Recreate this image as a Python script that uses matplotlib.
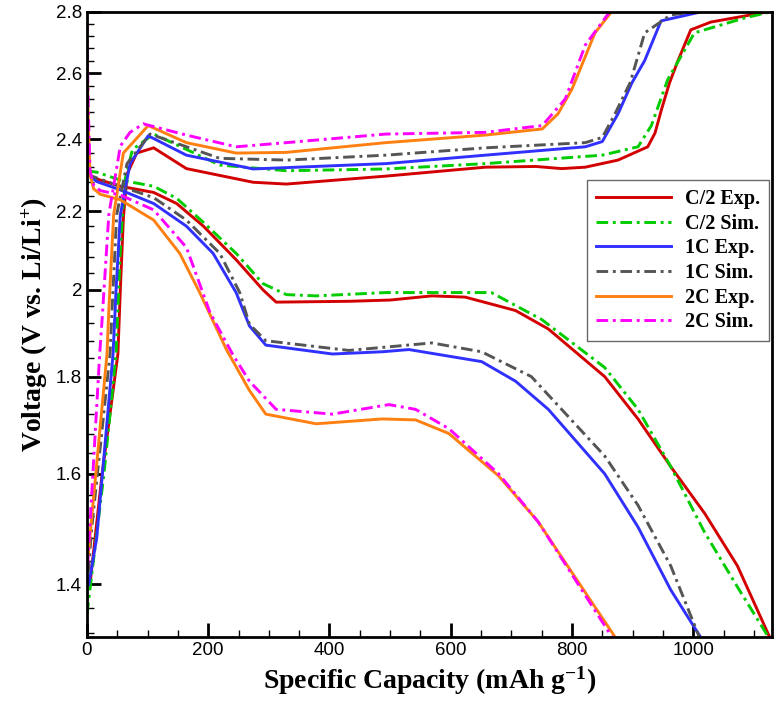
import numpy as np
import matplotlib
matplotlib.use('Agg')
import matplotlib.pyplot as plt
from matplotlib.ticker import FixedLocator, NullFormatter, FormatStrFormatter

plt.rcParams['mathtext.fontset'] = 'custom'
plt.rcParams['mathtext.rm'] = 'Liberation Serif:bold'
plt.rcParams['mathtext.it'] = 'Liberation Serif:bold'
plt.rcParams['mathtext.bf'] = 'Liberation Serif:bold'

# discharge branches (capacity mAh/g, voltage V)
c2_exp_dis_x = [2, 11, 22, 55, 110, 148, 192, 246, 290, 312, 432, 500, 569, 624, 707, 761, 854, 909, 963, 1019, 1073, 1126]
c2_exp_dis_y = [2.30, 2.29, 2.284, 2.267, 2.25, 2.22, 2.16, 2.074, 2.0, 1.97, 1.972, 1.975, 1.985, 1.982, 1.95, 1.907, 1.80, 1.71, 1.614, 1.525, 1.431, 1.313]
c2_sim_dis_x = [0, 16, 55, 110, 148, 192, 246, 290, 329, 378, 493, 542, 667, 750, 854, 909, 963, 1019, 1073, 1124]
c2_sim_dis_y = [2.31, 2.306, 2.284, 2.267, 2.234, 2.17, 2.09, 2.015, 1.988, 1.985, 1.993, 1.993, 1.993, 1.929, 1.82, 1.73, 1.614, 1.49, 1.395, 1.313]
c1_exp_dis_x = [2, 16, 55, 110, 164, 208, 246, 268, 295, 405, 487, 531, 651, 707, 761, 854, 909, 963, 1012]
c1_exp_dis_y = [2.30, 2.28, 2.257, 2.22, 2.16, 2.09, 1.993, 1.914, 1.87, 1.85, 1.855, 1.86, 1.833, 1.79, 1.73, 1.60, 1.50, 1.39, 1.313]
c1_sim_dis_x = [0, 16, 55, 110, 164, 219, 252, 268, 295, 432, 569, 651, 733, 854, 909, 963, 1010]
c1_sim_dis_y = [2.30, 2.29, 2.267, 2.236, 2.176, 2.09, 1.993, 1.918, 1.88, 1.858, 1.875, 1.855, 1.80, 1.635, 1.54, 1.431, 1.313]
c2c_exp_dis_x = [0, 2, 5, 11, 22, 55, 110, 153, 186, 230, 268, 295, 378, 487, 542, 597, 679, 744, 871]
c2c_exp_dis_y = [2.70, 2.45, 2.30, 2.26, 2.245, 2.23, 2.176, 2.09, 1.993, 1.86, 1.77, 1.72, 1.70, 1.71, 1.708, 1.68, 1.596, 1.51, 1.313]
c2c_sim_dis_x = [0, 2, 5, 11, 22, 55, 110, 164, 203, 240, 268, 312, 405, 498, 542, 597, 679, 744, 866]
c2c_sim_dis_y = [2.76, 2.50, 2.31, 2.27, 2.255, 2.243, 2.203, 2.105, 1.945, 1.85, 1.79, 1.73, 1.72, 1.74, 1.73, 1.69, 1.60, 1.51, 1.313]

# charge branches
c2_exp_chg_x = [5, 25, 51, 55, 60, 66, 82, 110, 164, 274, 329, 493, 657, 740, 783, 822, 876, 925, 937, 948, 961, 975, 996, 1029, 1122]
c2_exp_chg_y = [1.40, 1.60, 1.85, 2.0, 2.18, 2.30, 2.36, 2.375, 2.316, 2.278, 2.273, 2.295, 2.32, 2.322, 2.316, 2.32, 2.34, 2.378, 2.418, 2.49, 2.57, 2.64, 2.74, 2.766, 2.80]
c2_sim_chg_x = [0, 28, 48, 55, 62, 75, 110, 219, 329, 493, 657, 850, 909, 931, 958, 1002, 1085, 1127]
c2_sim_chg_y = [1.35, 1.60, 1.85, 2.10, 2.28, 2.37, 2.415, 2.326, 2.31, 2.315, 2.33, 2.354, 2.378, 2.44, 2.58, 2.73, 2.78, 2.80]
c1_exp_chg_x = [3, 16, 43, 48, 55, 71, 101, 164, 274, 493, 657, 822, 850, 876, 899, 920, 947, 1012]
c1_exp_chg_y = [1.40, 1.48, 1.85, 2.00, 2.19, 2.33, 2.41, 2.354, 2.315, 2.33, 2.354, 2.378, 2.393, 2.475, 2.57, 2.64, 2.77, 2.80]
c1_sim_chg_x = [2, 8, 38, 42, 49, 66, 104, 219, 329, 493, 657, 822, 850, 871, 896, 920, 963, 1000]
c1_sim_chg_y = [1.42, 1.50, 1.85, 1.97, 2.19, 2.33, 2.415, 2.345, 2.34, 2.354, 2.375, 2.39, 2.405, 2.475, 2.57, 2.73, 2.79, 2.80]
c2c_exp_chg_x = [2, 33, 36, 44, 60, 101, 164, 246, 329, 493, 657, 751, 777, 800, 838, 865]
c2c_exp_chg_y = [1.45, 1.85, 1.95, 2.19, 2.36, 2.44, 2.39, 2.36, 2.362, 2.39, 2.412, 2.43, 2.475, 2.55, 2.73, 2.80]
c2c_sim_chg_x = [1, 21, 25, 36, 55, 71, 93, 164, 246, 329, 493, 657, 751, 789, 822, 862]
c2c_sim_chg_y = [1.43, 1.85, 1.93, 2.19, 2.38, 2.42, 2.445, 2.412, 2.378, 2.39, 2.415, 2.42, 2.44, 2.52, 2.69, 2.80]

labels = ['C/2 Exp.', 'C/2 Sim.', '1C Exp.', '1C Sim.', '2C Exp.', '2C Sim.']
colors = ['#d20000', '#00cc00', '#3030ff', '#555555', '#ff8010', '#ff00ff']
dis = [(c2_exp_dis_x, c2_exp_dis_y), (c2_sim_dis_x, c2_sim_dis_y), (c1_exp_dis_x, c1_exp_dis_y),
       (c1_sim_dis_x, c1_sim_dis_y), (c2c_exp_dis_x, c2c_exp_dis_y), (c2c_sim_dis_x, c2c_sim_dis_y)]
chg = [(c2_exp_chg_x, c2_exp_chg_y), (c2_sim_chg_x, c2_sim_chg_y), (c1_exp_chg_x, c1_exp_chg_y),
       (c1_sim_chg_x, c1_sim_chg_y), (c2c_exp_chg_x, c2c_exp_chg_y), (c2c_sim_chg_x, c2c_sim_chg_y)]

fig = plt.figure(figsize=(7.78, 7.09), dpi=100)
ax = fig.add_axes([0.1118, 0.1016, 0.8805, 0.8815])

for i in range(6):
    ls = '-' if i % 2 == 0 else (0, (4, 1.6, 1, 1.6))
    ax.plot(dis[i][0], dis[i][1], color=colors[i], lw=2.1, ls=ls, label=labels[i], solid_joinstyle='round')
    ax.plot(chg[i][0], chg[i][1], color=colors[i], lw=2.1, ls=ls, solid_joinstyle='round')

ax.set_yscale('log')
ax.set_xlim(0, 1130)
ax.set_ylim(1.313, 2.8)
ax.xaxis.set_major_locator(FixedLocator([0, 200, 400, 600, 800, 1000]))
ax.xaxis.set_minor_locator(FixedLocator(np.arange(0, 1130, 50)))
ax.yaxis.set_major_locator(FixedLocator([1.4, 1.6, 1.8, 2.0, 2.2, 2.4, 2.6, 2.8]))
ax.yaxis.set_minor_locator(FixedLocator(np.arange(1.32, 2.8, 0.04)))
ax.yaxis.set_major_formatter(FormatStrFormatter('%g'))
ax.yaxis.set_minor_formatter(NullFormatter())
ax.xaxis.set_major_formatter(FormatStrFormatter('%g'))

ax.tick_params(which='both', direction='in', top=False, right=False, labelsize=13.5)
ax.tick_params(which='major', length=10, width=2)
ax.tick_params(which='minor', length=5, width=1)
for lab in ax.get_xticklabels() + ax.get_yticklabels():
    lab.set_family('Liberation Sans')
for s in ax.spines.values():
    s.set_linewidth(2)

ax.set_xlabel('Specific Capacity (mAh g$^{-1}$)', family='Liberation Serif', weight='bold', fontsize=20)
ax.set_ylabel('Voltage (V vs. Li/Li$^{+}$)', family='Liberation Serif', weight='bold', fontsize=20)

leg = ax.legend(loc='upper right', bbox_to_anchor=(0.996, 0.731), borderaxespad=0, fancybox=False,
                prop={'family': 'Liberation Serif', 'weight': 'bold', 'size': 14.5},
                handlelength=3.7, labelspacing=0.23, handletextpad=0.7, borderpad=0.45)
leg.get_frame().set_edgecolor('#444444')
leg.get_frame().set_linewidth(1)

fig.savefig('out.png', dpi=100)
